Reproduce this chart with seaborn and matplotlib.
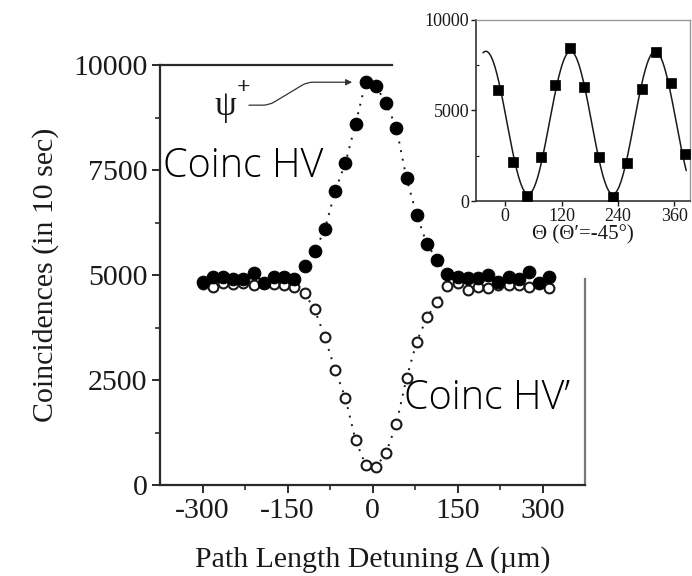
import numpy as np
import pandas as pd
import matplotlib
matplotlib.use("Agg")
import matplotlib.pyplot as plt
import seaborn as sns

# ---------------- data ----------------
detuning_um = [-300, -282, -264, -246, -228, -210, -192, -174, -156, -138,
               -120, -102, -84, -66, -48, -30, -12, 6, 24, 42, 60, 78, 96, 114,
               132, 150, 168, 186, 204, 222, 240, 258, 276, 294, 312]
coinc_hv = [4840, 4960, 4960, 4900, 4900, 5040, 4800, 4960, 4960, 4900,
            5210, 5570, 6090, 7000, 7660, 8590, 9600, 9500, 9085, 8510, 7300, 6430, 5740, 5360,
            5020, 4960, 4920, 4920, 5000, 4840, 4960, 4900, 5080, 4800, 4960]
coinc_hv_prime = [4780, 4720, 4800, 4780, 4800, 4760, 4800, 4780, 4760, 4720,
                  4560, 4180, 3515, 2740, 2080, 1070, 475, 420, 770, 1450, 2540, 3410, 3990, 4360,
                  4740, 4800, 4640, 4720, 4680, 4760, 4760, 4760, 4720, 4800, 4680]

inset_theta = [-15, 16, 46, 77, 107, 138, 168, 199, 229, 260, 290, 321, 352, 383]
inset_counts = [6130, 2150, 280, 2430, 6400, 8450, 6300, 2430, 220, 2100, 6190, 8230, 6520, 2600]

x_ticks = [-300, -150, 0, 150, 300]
x_ticklabels = ["-300", "-150", "0", "150", "300"]
y_ticks = [0, 2500, 5000, 7500, 10000]
y_ticklabels = ["0", "2500", "5000", "7500", "10000"]
inset_xticks = [0, 120, 240, 360]
inset_xticklabels = ["0", "120", "240", "360"]
inset_yticks = [0, 5000, 10000]
inset_yticklabels = ["0", "5000", "10000"]

# ---------------- style ----------------
sns.set_theme(style="ticks")
plt.rcParams["font.family"] = ["Liberation Serif", "DejaVu Serif"]
INK = "#1a1a1a"
SANS = ["Open Sans", "Noto Sans", "DejaVu Sans"]

df = pd.DataFrame({"x": detuning_um, "hv": coinc_hv, "hvp": coinc_hv_prime})
dfi = pd.DataFrame({"theta": inset_theta, "counts": inset_counts})

fig = plt.figure(figsize=(6.92, 5.76), dpi=100)
W, H = 692, 576
ax = fig.add_axes([160 / W, (H - 485) / H, 425 / W, 420 / H])

# dotted guide lines through the points
sns.lineplot(data=df, x="x", y="hvp", ax=ax, color=INK, lw=1.4,
             dashes=False, linestyle=(0, (1, 3.5)), estimator=None, zorder=2)
sns.lineplot(data=df, x="x", y="hv", ax=ax, color=INK, lw=1.4,
             dashes=False, linestyle=(0, (1, 3.5)), estimator=None, zorder=2)
# open circles (HV') then filled circles (HV)
sns.scatterplot(data=df, x="x", y="hvp", ax=ax, marker="o", s=50,
                facecolor="white", edgecolor=INK, linewidth=1.5, zorder=3)
sns.scatterplot(data=df, x="x", y="hv", ax=ax, marker="o", s=82,
                color="black", edgecolor="black", linewidth=0.8, zorder=4)

ax.set_xlim(-375, 375)
ax.set_ylim(0, 10000)
ax.set_xticks(x_ticks)
ax.set_xticklabels(x_ticklabels)
ax.set_yticks(y_ticks)
ax.set_yticklabels(y_ticklabels)
ax.set_xticks([-225, -75, 75, 225], minor=True)
ax.set_yticks([1250, 3750, 6250, 8750], minor=True)
ax.tick_params(which="major", direction="out", length=6, width=1.3,
               labelsize=21.5, pad=3, colors=INK)
ax.tick_params(which="minor", direction="out", length=3.5, width=1.1, colors=INK)
ax.set_xlabel("Path Length Detuning Δ (µm)", fontsize=21.5, color=INK, labelpad=16)
ax.set_ylabel("Coincidences (in 10 sec)", fontsize=21.5, color=INK, labelpad=10)

for side in ["left", "bottom", "top", "right"]:
    ax.spines[side].set_visible(True)
    ax.spines[side].set_linewidth(1.6)
    ax.spines[side].set_color("#2a2a2a")
ax.spines["right"].set_color("#777777")
ax.spines["top"].set_bounds(-375, 35)
ax.spines["right"].set_bounds(0, 4900)

# annotations
ax.text(-370, 7338, "Coinc HV", fontsize=28.5, family=SANS, fontweight="light",
        color="black", va="baseline", ha="left", zorder=6)
ax.text(56, 1800, "Coinc HV\u2019", fontsize=28.5, family=SANS, fontweight="light",
        color="black", va="baseline", ha="left", zorder=6)
ax.text(-278, 8820, "ψ", fontsize=25, color=INK, va="baseline", ha="left", zorder=6)
ax.text(-240, 9330, "+", fontsize=17, fontweight="bold", color=INK,
        va="baseline", ha="left", zorder=6)
ax.annotate("", xy=(-36, 9590), xytext=(-218, 9044),
            arrowprops=dict(arrowstyle="-|>", color="#333333", lw=0.9,
                            mutation_scale=9, shrinkA=0, shrinkB=0,
                            connectionstyle="arc,angleA=0,armA=20,angleB=180,armB=45,rad=6"),
            zorder=6)

# ---------------- inset ----------------
axi = fig.add_axes([476 / W, (H - 201) / H, 214 / W, 181 / H])
# least-squares cos(2θ) fit through the inset points
th = np.radians(np.array(inset_theta, dtype=float))
A = np.column_stack([np.ones_like(th), np.cos(2 * th), np.sin(2 * th)])
coef, *_ = np.linalg.lstsq(A, np.array(inset_counts, dtype=float), rcond=None)
tfit = np.linspace(-47, 385, 400)
tr = np.radians(tfit)
fit_df = pd.DataFrame({"theta": tfit,
                       "counts": coef[0] + coef[1] * np.cos(2 * tr) + coef[2] * np.sin(2 * tr)})
sns.lineplot(data=fit_df, x="theta", y="counts", ax=axi, color=INK, lw=1.1,
             estimator=None, zorder=2)
sns.scatterplot(data=dfi, x="theta", y="counts", ax=axi, marker="s", s=42,
                color="black", edgecolor="black", linewidth=0.5, zorder=3)
axi.set_xlim(-62, 393)
axi.set_ylim(0, 10000)
axi.set_xticks(inset_xticks)
axi.set_xticklabels(inset_xticklabels)
axi.set_yticks(inset_yticks)
axi.set_yticklabels(inset_yticklabels)
axi.set_yticks([2500, 7500], minor=True)
axi.tick_params(which="major", direction="out", length=3.5, width=1.0,
                labelsize=13, pad=1.5, colors=INK)
axi.tick_params(which="minor", direction="in", length=2.5, width=0.8, colors=INK)
axi.set_xlabel("Θ (Θ\u2032=-45°)", fontsize=15, color=INK, labelpad=0)
axi.set_ylabel("")
for side in ["left", "bottom"]:
    axi.spines[side].set_linewidth(1.2)
    axi.spines[side].set_color("#333333")
for side in ["top", "right"]:
    axi.spines[side].set_visible(True)
    axi.spines[side].set_linewidth(1.0)
    axi.spines[side].set_color("#9a9a9a")

fig.savefig("out.png", dpi=100, facecolor="white")
